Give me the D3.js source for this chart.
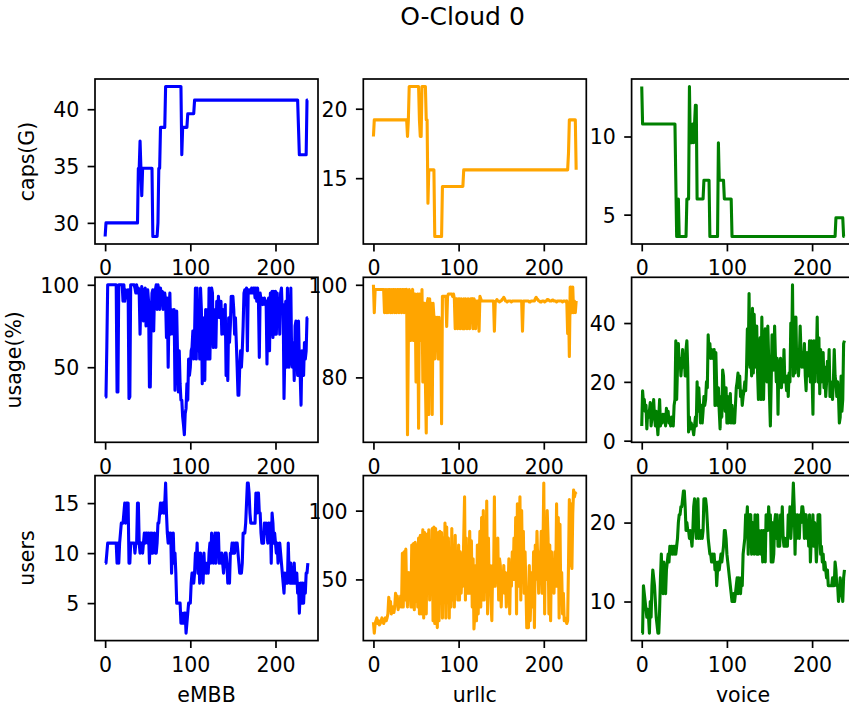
<!DOCTYPE html>
<html>
<head>
<meta charset="utf-8">
<script src="https://cdn.jsdelivr.net/npm/d3@7"></script>
<style>
  html, body { margin: 0; padding: 0; background: #fff; }
  svg { display: block; }
  text { font-family: "DejaVu Sans", sans-serif; fill: #000; }
</style>
</head>
<body>
<svg id="chart" width="849" height="709"></svg>
<script>
// ---- labels ----
const figTitle = "O-Cloud 0";
const sliceNames = ["eMBB", "urllc", "voice"];
const metricNames = ["caps(G)", "usage(%)", "users"];
const sliceColors = ["blue", "orange", "green"];
const xTicks = [0, 100, 200];

// ---- capacity per slice (G) ----
const capsEmbb = [
  28.8,30,30,30,30,30,30,30,30,30,
  30,30,30,30,30,30,30,30,30,30,
  30,30,30,30,30,30,30,30,30,30,
  30,30,30,30,30,30,30,30,30,34.8,
  34.8,37.2,34.8,32.4,34.8,34.8,34.8,34.8,34.8,34.8,
  34.8,34.8,34.8,34.8,34.8,34.8,28.8,28.8,28.8,28.8,
  28.8,28.8,30,34.8,34.8,38.4,38.4,38.4,38.4,38.4,
  38.4,42,42,42,42,42,42,42,42,42,
  42,42,42,42,42,42,42,42,42,42,
  36,38.4,38.4,38.4,38.4,38.4,38.4,39.6,39.6,39.6,
  39.6,39.6,39.6,39.6,39.6,40.8,40.8,40.8,40.8,40.8,
  40.8,40.8,40.8,40.8,40.8,40.8,40.8,40.8,40.8,40.8,
  40.8,40.8,40.8,40.8,40.8,40.8,40.8,40.8,40.8,40.8,
  40.8,40.8,40.8,40.8,40.8,40.8,40.8,40.8,40.8,40.8,
  40.8,40.8,40.8,40.8,40.8,40.8,40.8,40.8,40.8,40.8,
  40.8,40.8,40.8,40.8,40.8,40.8,40.8,40.8,40.8,40.8,
  40.8,40.8,40.8,40.8,40.8,40.8,40.8,40.8,40.8,40.8,
  40.8,40.8,40.8,40.8,40.8,40.8,40.8,40.8,40.8,40.8,
  40.8,40.8,40.8,40.8,40.8,40.8,40.8,40.8,40.8,40.8,
  40.8,40.8,40.8,40.8,40.8,40.8,40.8,40.8,40.8,40.8,
  40.8,40.8,40.8,40.8,40.8,40.8,40.8,40.8,40.8,40.8,
  40.8,40.8,40.8,40.8,40.8,40.8,40.8,40.8,40.8,40.8,
  40.8,40.8,40.8,40.8,40.8,40.8,40.8,38.4,36,36,
  36,36,36,36,36,36,36,40.8,40.8
];
const capsUrllc = [
  18,19.2,19.2,19.2,19.2,19.2,19.2,19.2,19.2,19.2,
  19.2,19.2,19.2,19.2,19.2,19.2,19.2,19.2,19.2,19.2,
  19.2,19.2,19.2,19.2,19.2,19.2,19.2,19.2,19.2,19.2,
  19.2,19.2,19.2,19.2,19.2,19.2,19.2,19.2,19.2,19.2,
  18,19.2,21.6,21.6,21.6,21.6,21.6,21.6,21.6,21.6,
  21.6,21.6,21.6,21.6,19.2,18,18,21.6,21.6,21.6,
  21.6,21.6,19.2,19.2,13.2,15.6,15.6,15.6,15.6,15.6,
  15.6,15.6,10.8,10.8,10.8,10.8,10.8,10.8,10.8,10.8,
  10.8,14.4,14.4,14.4,14.4,14.4,14.4,14.4,14.4,14.4,
  14.4,14.4,14.4,14.4,14.4,14.4,14.4,14.4,14.4,14.4,
  14.4,14.4,14.4,14.4,14.4,14.4,15.6,15.6,15.6,15.6,
  15.6,15.6,15.6,15.6,15.6,15.6,15.6,15.6,15.6,15.6,
  15.6,15.6,15.6,15.6,15.6,15.6,15.6,15.6,15.6,15.6,
  15.6,15.6,15.6,15.6,15.6,15.6,15.6,15.6,15.6,15.6,
  15.6,15.6,15.6,15.6,15.6,15.6,15.6,15.6,15.6,15.6,
  15.6,15.6,15.6,15.6,15.6,15.6,15.6,15.6,15.6,15.6,
  15.6,15.6,15.6,15.6,15.6,15.6,15.6,15.6,15.6,15.6,
  15.6,15.6,15.6,15.6,15.6,15.6,15.6,15.6,15.6,15.6,
  15.6,15.6,15.6,15.6,15.6,15.6,15.6,15.6,15.6,15.6,
  15.6,15.6,15.6,15.6,15.6,15.6,15.6,15.6,15.6,15.6,
  15.6,15.6,15.6,15.6,15.6,15.6,15.6,15.6,15.6,15.6,
  15.6,15.6,15.6,15.6,15.6,15.6,15.6,15.6,15.6,15.6,
  15.6,15.6,15.6,15.6,15.6,15.6,15.6,15.6,15.6,16.8,
  19.2,19.2,19.2,19.2,19.2,19.2,19.2,19.2,15.6
];
const capsVoice = [
  13.2,10.8,10.8,10.8,10.8,10.8,10.8,10.8,10.8,10.8,
  10.8,10.8,10.8,10.8,10.8,10.8,10.8,10.8,10.8,10.8,
  10.8,10.8,10.8,10.8,10.8,10.8,10.8,10.8,10.8,10.8,
  10.8,10.8,10.8,10.8,10.8,10.8,10.8,10.8,10.8,10.8,
  7.2,3.6,3.6,6,3.6,3.6,3.6,3.6,3.6,3.6,
  3.6,3.6,3.6,6,6,6,13.2,9.6,9.6,9.6,
  10.8,9.6,10.8,12,12,6,6,6,6,6,
  6,6,6,7.2,7.2,7.2,7.2,7.2,7.2,7.2,
  3.6,3.6,3.6,3.6,3.6,3.6,3.6,3.6,3.6,3.6,
  9.6,7.2,7.2,7.2,7.2,7.2,7.2,6,6,6,
  6,6,6,6,6,6,3.6,3.6,3.6,3.6,
  3.6,3.6,3.6,3.6,3.6,3.6,3.6,3.6,3.6,3.6,
  3.6,3.6,3.6,3.6,3.6,3.6,3.6,3.6,3.6,3.6,
  3.6,3.6,3.6,3.6,3.6,3.6,3.6,3.6,3.6,3.6,
  3.6,3.6,3.6,3.6,3.6,3.6,3.6,3.6,3.6,3.6,
  3.6,3.6,3.6,3.6,3.6,3.6,3.6,3.6,3.6,3.6,
  3.6,3.6,3.6,3.6,3.6,3.6,3.6,3.6,3.6,3.6,
  3.6,3.6,3.6,3.6,3.6,3.6,3.6,3.6,3.6,3.6,
  3.6,3.6,3.6,3.6,3.6,3.6,3.6,3.6,3.6,3.6,
  3.6,3.6,3.6,3.6,3.6,3.6,3.6,3.6,3.6,3.6,
  3.6,3.6,3.6,3.6,3.6,3.6,3.6,3.6,3.6,3.6,
  3.6,3.6,3.6,3.6,3.6,3.6,3.6,3.6,3.6,3.6,
  3.6,3.6,3.6,3.6,3.6,3.6,3.6,3.6,4.8,4.8,
  4.8,4.8,4.8,4.8,4.8,4.8,4.8,3.6,3.6
];

// ---- usage per slice (%) ----
const usageEmbb = [
  32,32,63,100,100,100,100,100,100,100,
  100,100,100,100,35,35,100,100,100,100,
  100,90,100,90,97,92,95,97,31,32,
  100,100,100,100,100,98,95,100,95,98,
  95,70,92,99,85,78,97,98,75,95,
  97,90,38,38,80,95,97,72,95,97,
  100,85,100,97,85,98,88,96,85,95,
  95,90,68,92,50,84,95,70,85,84,
  70,85,36,60,84,58,35,60,40,30,
  30,20,15,9,22,25,40,30,55,45,
  50,60,62,72,55,70,98,55,98,60,
  90,55,98,85,40,80,55,42,85,55,
  85,55,98,55,85,98,95,62,85,75,
  62,90,80,93,85,80,90,70,85,80,
  70,88,45,60,42,80,65,75,93,85,
  93,85,70,80,65,50,33,33,50,60,
  50,60,75,95,97,95,98,60,97,95,
  97,95,98,95,98,98,92,98,90,98,
  90,56,95,90,92,88,90,92,88,90,
  52,90,92,60,95,70,96,68,96,70,
  96,70,95,83,88,70,95,98,83,88,
  31,60,90,50,98,75,50,70,98,55,
  50,65,42,75,78,60,45,78,55,45,
  27,60,58,45,65,55,60,80,80
];
const usageUrllc = [
  100,94,99,99,99,99,99,99,99,99,
  99,99,99,94,99,94,99,94,99,99,
  94,99,94,99,99,94,99,94,99,99,
  94,99,99,94,99,99,94,99,98,99,
  67.6,88,99,98,88,97,99,88,98,98,
  79,97,98,69,98,97,88,99,79,96,
  96,79,68,96,97,72,97,88,96,72,
  96,93,84,93,88,93,84,93,84,92,
  70,97.5,97.5,97.5,97.5,97.5,91,97.5,98,98,
  98,98,98,97.5,98,97,90.5,97,97,90.5,
  97,97,90.5,97,96.5,90.5,97,90.5,97,96.5,
  90.5,97,96.5,90.5,97,96.5,97,90.5,97,96.5,
  90.5,96.5,96.5,96.5,90,97.5,97,96.5,96.5,96.5,
  96.5,96.5,96.5,96.5,96.5,96.5,96.5,96.5,96.5,96.5,
  96.5,96.5,90,96.3,96.5,96.8,96.5,96.5,96.3,96.5,
  96.5,96.8,97,97.3,97,96.5,96.5,96.3,96.5,96.5,
  96.5,96.5,96.3,96.5,96.5,96.5,96.5,96.5,96.5,96.5,
  96.5,96.5,96.5,96.5,96.5,90,96.5,96.5,96.5,96.5,
  96.5,96.5,96.5,96.3,96.3,96.5,96.5,96.5,96.5,96.5,
  97,97.3,97,96.8,96.5,96.5,96.3,96.3,96.5,96.5,
  96.5,96.3,96.5,96.5,96.8,96.8,96.7,96.5,96.5,96.5,
  96.7,96.7,96.5,96.5,96.5,96.3,96.5,96.5,96.5,96.5,
  96.5,96.5,96.3,96.5,96.5,96.5,96.3,96.5,89.5,96,
  84.5,99.5,99.5,94,99.5,94,96.5,94,96.5
];
const usageVoice = [
  5,17,13,14,10,12,4,10,8,10,
  13,5,8,10,14,8,5,10,6,2,
  8,14,5,8,6,9,7,9,5,11,
  8,10,6,7,5,8,6,5,12,14,
  34,14,25,33,25,28,22,26,31,25,
  28,22,31,34,25,3,8,4,6,5,
  4,2,5,8,5,20,10,18,12,6,
  12,6,10,15,12,14,20,18,36,30,
  33,28,31,28,30,31,12,30,18,12,
  18,10,4,15,8,24,22,14,10,18,
  6,15,6,12,16,6,12,6,10,6,
  12,18,20,23,18,22,15,17,12,15,
  17,20,17,24,38,26,50,25,30,22,
  45,23,43,30,25,39,23,14,28,35,
  14,42,25,14,30,38,24,20,39,28,
  15,5,20,36,30,24,39,28,20,28,
  9,27,24,28,18,23,20,31,20,22,
  17,22,15,23,20,40,30,53,22,42,
  23,42,25,30,22,28,39,30,25,30,
  25,33,22,17,30,25,22,34,20,34,
  22,9,34,20,34,26,42,20,35,16,
  31,20,25,30,18,25,15,20,27,22,
  31,15,20,17,14,20,31,22,20,15,
  20,15,6,8,22,10,14,33,34
];

// ---- users per slice ----
const usersEmbb = [
  9,9,10,11,11,11,11,11,11,11,
  11,11,11,11,9,11,9,11,12,13,
  13,13,14,15,13,15,15,15,9,9,
  11,11,11,11,11,10,11,11,15,15,
  11,10,11,11,10,11,12,11,12,12,
  11,12,9,12,10,12,10,11,12,10,
  10,11,13,13,14,15,14,15,15,14,
  15,17,14,12,11,12,11,12,8,11,
  12,9,10,8,5,5,5,5,5,3,
  4,3,3,4,4,2,3,4,5,5,
  5,7,8,8,7,8,10,9,11,8,
  10,7,10,9,8,7,10,8,9,8,
  9,8,10,11,9,12,10,9,11,12,
  9,12,10,12,9,10,9,10,9,8,
  9,10,10,9,7,8,7,10,10,11,
  10,11,10,11,11,11,10,9,8,8,
  8,9,12,12,12,13,15,17,17,16,
  14,13,13,13,13,13,13,16,14,16,
  16,14,14,12,11,12,11,13,12,13,
  12,11,13,12,13,9,14,13,11,12,
  11,10,11,9,10,11,10,9,8,7,
  6,8,7,8,7,11,8,7,9,7,
  8,7,9,7,7,8,6,7,4,6,
  7,5,7,5,7,6,8,8,9
];
const usersUrllc = [
  19,11,18,20,22,18,20,17,18,20,22,20,18,20,22,20,
  22,25,37,30,34,25,28,30,26,
  30,40,32,38,28,35,30,38,
  30,69,30,70,35,72,
  40,30,55,38,55,30,
  75,30,76,28,77,34,75,30,
  80,25,82,25,70,86,22,84,
  80,25,83,40,86,35,78,40,
  87,20,88,18,87,30,15,
  84,20,85,40,84,22,80,35,
  91,22,88,42,80,22,70,30,
  87,35,70,30,82,40,65,35,
  75,35,70,40,60,45,80,110,35,80,
  40,72,40,85,40,78,30,65,
  14,25,60,20,75,25,60,
  85,30,95,35,100,35,70,45,
  107,25,80,40,60,35,20,60,45,110,
  45,70,50,80,35,65,
  60,30,50,45,60,40,55,30,
  50,40,65,25,60,45,70,50,
  80,50,95,25,105,45,80,
  110,35,100,50,85,40,70,45,
  15,40,15,60,20,40,55,30,
  70,15,75,50,85,60,40,70,
  60,85,40,70,120,25,90,50,
  100,80,25,75,20,70,45,60,
  40,70,45,105,45,95,22,90,
  35,55,25,40,20,22,20,18,
  20,60,108,60,105,
  58,98,115,110,113,112
];
const usersVoice = [
  6,6,12,11,10,9,8,9,8,6,
  10,8,12,14,13,12,10,8,7,6,
  6,9,13,16,12,11,15,13,11,14,
  15,16,15,17,16,17,16,17,16,17,
  16,17,18,20,21,21,22,22,23,24,
  24,22,19,20,19,19,18,19,18,17,
  19,22,23,20,18,22,23,18,19,18,
  19,18,19,23,23,23,22,20,18,17,
  16,16,15,16,15,16,14,15,12,14,
  15,14,15,16,15,16,17,19,19,18,
  16,15,14,13,12,11,10,10,11,10,
  11,12,13,11,13,12,11,13,12,16,
  17,18,21,20,22,16,21,20,21,16,
  20,19,16,21,17,16,21,16,19,17,
  16,19,15,19,18,15,21,20,19,22,
  20,21,15,20,15,16,20,21,18,21,
  17,18,17,21,19,22,18,17,18,17,
  18,17,21,19,22,18,20,22,25,22,
  16,21,18,21,19,18,21,20,22,22,
  21,18,20,21,18,20,17,21,15,18,
  18,21,17,20,18,15,17,21,20,21,
  16,17,15,16,14,15,14,13,14,12,
  12,12,12,12,13,12,12,15,14,12,
  12,10,11,13,12,11,10,13,14
];

// ---- y tick values per panel ----
const capsEmbbTicks = [30, 35, 40];
const capsUrllcTicks = [15, 20];
const capsVoiceTicks = [5, 10];
const usageEmbbTicks = [50, 100];
const usageUrllcTicks = [80, 100];
const usageVoiceTicks = [0, 20, 40];
const usersEmbbTicks = [5, 10, 15];
const usersUrllcTicks = [50, 100];
const usersVoiceTicks = [10, 20];

// grid of panels: rows = metrics, columns = slices
const grid = [
  [{ values: capsEmbb, ticks: capsEmbbTicks }, { values: capsUrllc, ticks: capsUrllcTicks }, { values: capsVoice, ticks: capsVoiceTicks }],
  [{ values: usageEmbb, ticks: usageEmbbTicks }, { values: usageUrllc, ticks: usageUrllcTicks }, { values: usageVoice, ticks: usageVoiceTicks }],
  [{ values: usersEmbb, ticks: usersEmbbTicks }, { values: usersUrllc, ticks: usersUrllcTicks }, { values: usersVoice, ticks: usersVoiceTicks }]
];

// ---- layout ----
const panelLeft = 95, panelTop = 79;
const panelW = 223, panelH = 165;
const stepX = 268.3, stepY = 198.3;
const fontPx = 20.5, titlePx = 25;
const tickLen = 7.4, tickPad = 8.3, spineW = 1.7, lineW = 3.1;

const svg = d3.select("#chart");
svg.append("rect").attr("width", 849).attr("height", 709).attr("fill", "#fff");

// matplotlib-style autoscale: data extent plus 5% margin
function padded(lo, hi) {
  const m = (hi - lo) * 0.05;
  return [lo - m, hi + m];
}

grid.forEach((row, r) => {
  row.forEach((cell, c) => {
    const ox = panelLeft + c * stepX;
    const oy = panelTop + r * stepY;
    const n = cell.values.length;

    const x = d3.scaleLinear().domain(padded(0, n - 1)).range([0, panelW]);
    const y = d3.scaleLinear().domain(padded(d3.min(cell.values), d3.max(cell.values))).range([panelH, 0]);

    const g = svg.append("g").attr("transform", `translate(${ox},${oy})`);
    g.append("rect").attr("width", panelW).attr("height", panelH).attr("fill", "#fff");

    const clipId = `clip-${r}-${c}`;
    g.append("clipPath").attr("id", clipId)
      .append("rect").attr("width", panelW).attr("height", panelH);

    g.append("path")
      .datum(cell.values)
      .attr("clip-path", `url(#${clipId})`)
      .attr("fill", "none")
      .attr("stroke", sliceColors[c])
      .attr("stroke-width", lineW)
      .attr("stroke-linejoin", "round")
      .attr("d", d3.line().x((d, i) => x(i)).y(d => y(d)));

    g.append("rect").attr("width", panelW).attr("height", panelH)
      .attr("fill", "none").attr("stroke", "#000").attr("stroke-width", spineW);

    const xa = g.append("g").attr("transform", `translate(0,${panelH})`)
      .call(d3.axisBottom(x).tickValues(xTicks).tickSize(tickLen).tickPadding(9.3).tickFormat(d3.format("d")));
    const ya = g.append("g")
      .call(d3.axisLeft(y).tickValues(cell.ticks).tickSize(tickLen).tickPadding(tickPad).tickFormat(d3.format("d")));

    [xa, ya].forEach(a => {
      a.attr("font-size", fontPx).attr("font-family", "DejaVu Sans");
      a.select(".domain").remove();
      a.selectAll(".tick line").attr("stroke", "#000").attr("stroke-width", spineW);
      a.selectAll(".tick text").attr("fill", "#000");
    });
    ya.selectAll(".tick text").attr("dy", "0.36em");

    if (c === 0) {
      let maxW = 0;
      ya.selectAll(".tick text").each(function () { maxW = Math.max(maxW, this.getComputedTextLength()); });
      const labelX = -(tickLen + tickPad + maxW + 19);
      g.append("text")
        .attr("transform", `translate(${labelX},${panelH / 2}) rotate(-90)`)
        .attr("text-anchor", "middle")
        .attr("font-size", fontPx)
        .text(metricNames[r]);
    }
    if (r === grid.length - 1) {
      g.append("text")
        .attr("x", panelW / 2).attr("y", panelH + 61)
        .attr("text-anchor", "middle")
        .attr("font-size", fontPx)
        .text(sliceNames[c]);
    }
  });
});

svg.append("text")
  .attr("x", 462.5).attr("y", 24.5)
  .attr("text-anchor", "middle")
  .attr("font-size", titlePx)
  .text(figTitle);
</script>
</body>
</html>
